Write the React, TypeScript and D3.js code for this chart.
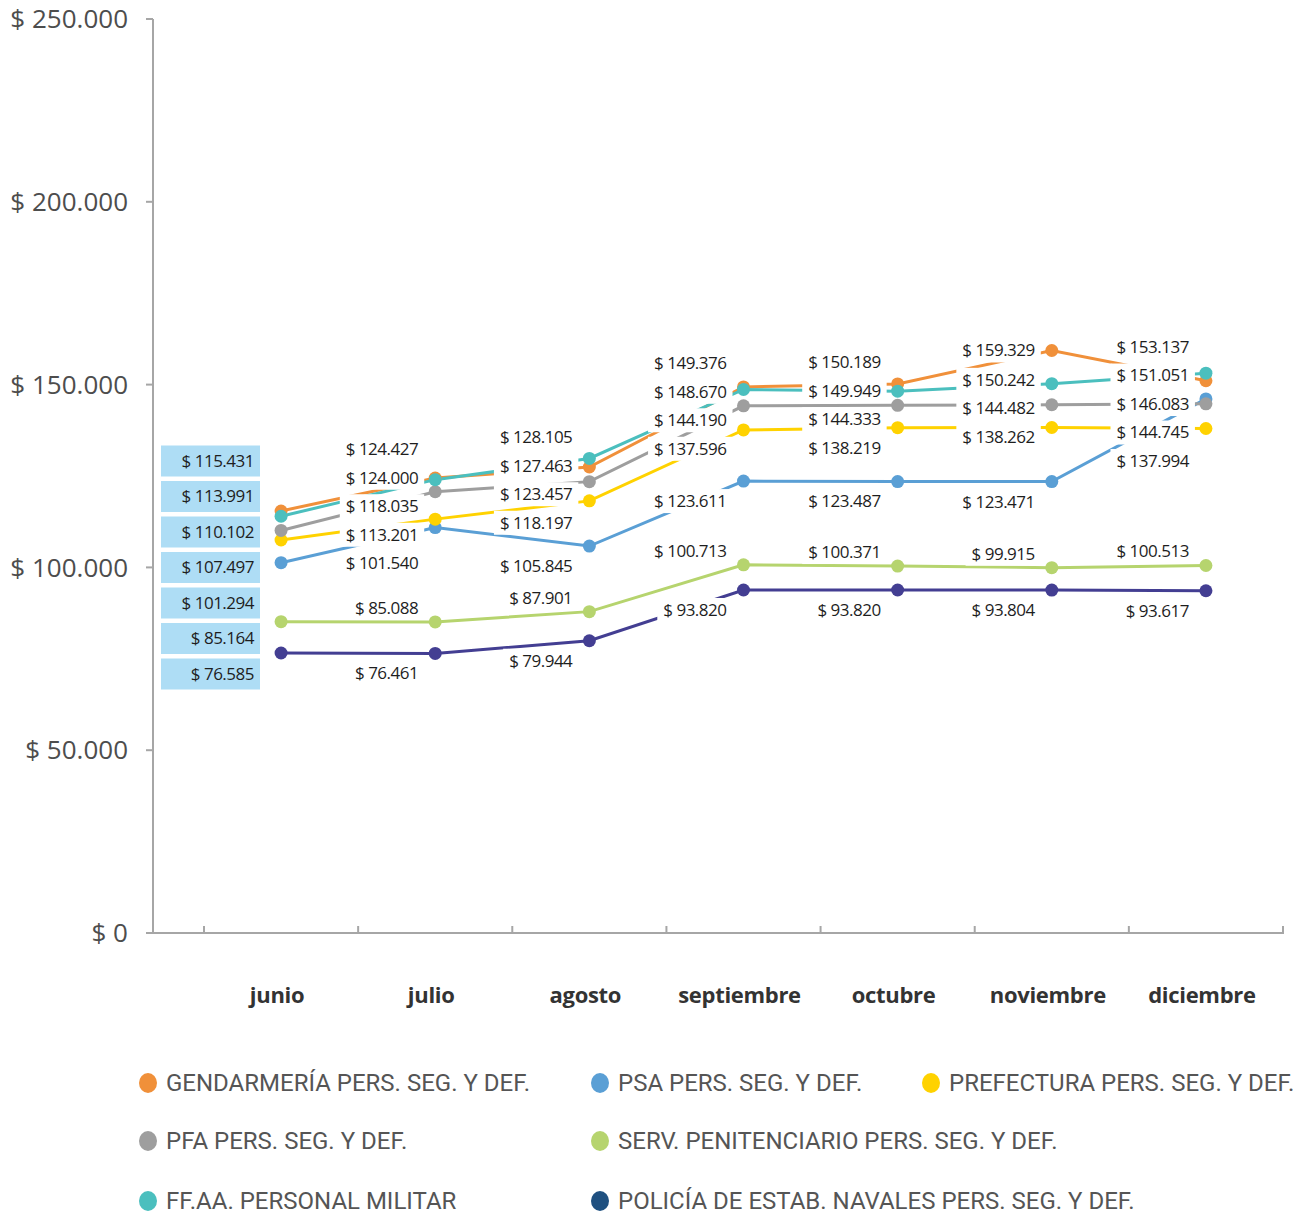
import React, { useRef, useEffect } from "react";
import * as d3 from "d3";

// categories and ticks
const months = ["junio", "julio", "agosto", "septiembre", "octubre", "noviembre", "diciembre"];
const yTicks = [0, 50000, 100000, 150000, 200000, 250000];

// series names (legend order)
const names = [
  "GENDARMERÍA PERS. SEG. Y DEF.",
  "PSA PERS. SEG. Y DEF.",
  "PREFECTURA PERS. SEG. Y DEF.",
  "PFA PERS. SEG. Y DEF.",
  "SERV. PENITENCIARIO PERS. SEG. Y DEF.",
  "FF.AA. PERSONAL MILITAR",
  "POLICÍA DE ESTAB. NAVALES PERS. SEG. Y DEF.",
];

// plotted values
const gendarmeria = [115431, 124427, 127463, 149376, 150189, 159329, 151051];
const psa = [101294, 110900, 105845, 123611, 123487, 123471, 146083];
const prefectura = [107497, 113201, 118197, 137596, 138219, 138262, 137994];
const pfa = [110102, 120700, 123457, 144190, 144333, 144482, 144745];
const servPenitenciario = [85164, 85088, 87901, 100713, 100371, 99915, 100513];
const ffaa = [113991, 124000, 129800, 148670, 148200, 150242, 153137];
const policiaNavales = [76585, 76461, 79944, 93820, 93820, 93804, 93617];

// values printed in the data labels (some differ from the plotted point)
const psaLabels = [101294, 101540, 105845, 123611, 123487, 123471, 146083];
const pfaLabels = [110102, 118035, 123457, 144190, 144333, 144482, 144745];
const ffaaLabels = [113991, 124000, 128105, 148670, 149949, 150242, 153137];

const lineColors = ["#F0903A", "#5A9FD5", "#FFD200", "#9E9E9E", "#B6D46E", "#4BBFBE", "#433E92"];
const legendColors = ["#F0903A", "#5A9FD5", "#FFD200", "#9E9E9E", "#B6D46E", "#4BBFBE", "#1F5080"];
// label offset (px) from the point before dodging
const labelShift = [0, 20, 0, 0, -14, 0, 20];

const money = (v: number) => "$ " + d3.format(",")(v).replace(/,/g, ".");

export default function App() {
  const svgRef = useRef<SVGSVGElement>(null);

  useEffect(() => {
    if (!svgRef.current) return;
    const svg = d3.select(svgRef.current);
    svg.selectAll("*").remove();

    const values = [gendarmeria, psa, prefectura, pfa, servPenitenciario, ffaa, policiaNavales];
    const labels = [gendarmeria, psaLabels, prefectura, pfaLabels, servPenitenciario, ffaaLabels, policiaNavales];

    const x0 = 153;
    const xBand = d3.scaleBand<string>().domain(months).range([204, 1283]).padding(0);
    const x = (m: string) => (xBand(m) as number) + xBand.bandwidth() / 2;
    const y = d3.scaleLinear().domain([0, 250000]).range([933, 19]);
    const axisColor = "#A6A6A6";

    // y axis
    svg.append("line").attr("x1", x0).attr("x2", x0).attr("y1", y(250000)).attr("y2", y(0))
      .attr("stroke", axisColor).attr("stroke-width", 2);
    const yt = svg.append("g");
    yTicks.forEach((t) => {
      yt.append("line").attr("x1", x0 - 7).attr("x2", x0).attr("y1", y(t)).attr("y2", y(t))
        .attr("stroke", axisColor).attr("stroke-width", 2);
      yt.append("text").attr("x", 128).attr("y", y(t)).attr("dy", "0.35em")
        .attr("text-anchor", "end").attr("font-family", "Open Sans").attr("font-size", 26)
        .attr("fill", "#4D4D4D").text(money(t));
    });

    // x axis
    svg.append("line").attr("x1", x0).attr("x2", 1284).attr("y1", y(0)).attr("y2", y(0))
      .attr("stroke", axisColor).attr("stroke-width", 2);
    const bounds = months.map((m) => xBand(m) as number).concat([xBand.range()[1]]);
    bounds.forEach((b) => {
      svg.append("line").attr("x1", b).attr("x2", b).attr("y1", y(0) - 7).attr("y2", y(0))
        .attr("stroke", axisColor).attr("stroke-width", 2);
    });
    months.forEach((m) => {
      svg.append("text").attr("x", x(m) - 4).attr("y", 1003).attr("text-anchor", "middle")
        .attr("font-family", "Open Sans").attr("font-weight", 700).attr("font-size", 22)
        .attr("letter-spacing", -0.3).attr("fill", "#333").text(m);
    });

    // lines
    const line = d3.line<number>().x((_, i) => x(months[i])).y((d) => y(d));
    values.forEach((vals, s) => {
      svg.append("path").datum(vals).attr("fill", "none").attr("stroke", lineColors[s])
        .attr("stroke-width", 3).attr("d", line);
    });

    // data labels (julio..diciembre), stacked to avoid overlap
    const gap = 28.5;
    const labelLayer = svg.append("g");
    months.forEach((m, i) => {
      if (i === 0) return;
      const items = values.map((vals, s) => ({ s, v: vals[i], want: y(vals[i]) + labelShift[s] }))
        .sort((a, b) => b.v - a.v);
      let clusters = items.map((it) => ({ items: [it], top: it.want }));
      let merged = true;
      while (merged) {
        merged = false;
        for (let k = 0; k < clusters.length - 1; k++) {
          const a = clusters[k];
          const b = clusters[k + 1];
          const aBottom = a.top + (a.items.length - 1) * gap;
          if (b.top - aBottom < gap) {
            const all = a.items.concat(b.items);
            const mean = d3.mean(all, (d) => d.want) as number;
            clusters.splice(k, 2, { items: all, top: mean - ((all.length - 1) * gap) / 2 + 3 });
            merged = true;
            break;
          }
        }
      }
      clusters.forEach((c) => {
        c.items.forEach((it, j) => {
          const ly = c.top + j * gap;
          const g = labelLayer.append("g");
          const rect = g.append("rect").attr("fill", "white");
          const t = g.append("text").attr("x", x(m) - 17).attr("y", ly).attr("dy", "0.35em")
            .attr("text-anchor", "end").attr("font-family", "Open Sans").attr("font-size", 17)
            .attr("letter-spacing", -0.5).attr("fill", "#1E1E1E").text(money(labels[it.s][i]));
          const bb = (t.node() as SVGTextElement).getBBox();
          rect.attr("x", bb.x - 6).attr("y", ly - 12).attr("width", bb.width + 12).attr("height", 24);
        });
      });
    });

    // points
    values.forEach((vals, s) => {
      svg.append("g").selectAll("circle").data(vals).join("circle")
        .attr("cx", (_, i) => x(months[i])).attr("cy", (d) => y(d)).attr("r", 6.5)
        .attr("fill", lineColors[s]);
    });

    // junio labels in boxes
    const junio = values.map((vals, s) => ({ s, v: vals[0] })).sort((a, b) => b.v - a.v);
    junio.forEach((d, k) => {
      const cy = 461 + k * 35.5;
      svg.append("rect").attr("x", 161).attr("y", cy - 15.5).attr("width", 99).attr("height", 31)
        .attr("fill", "#AEDDF5");
      svg.append("text").attr("x", 254).attr("y", cy).attr("dy", "0.35em").attr("text-anchor", "end")
        .attr("font-family", "Open Sans").attr("font-size", 17).attr("letter-spacing", -0.5)
        .attr("fill", "#1E1E1E").text(money(labels[d.s][0]));
    });

    // legend
    const colX = [148, 600, 931];
    const rowY = [1083, 1141, 1201];
    const slots = [[0, 0], [1, 0], [2, 0], [0, 1], [1, 1], [0, 2], [1, 2]];
    names.forEach((n, s) => {
      const [c, r] = slots[s];
      const g = svg.append("g").attr("transform", `translate(${colX[c]},${rowY[r]})`);
      g.append("ellipse").attr("rx", 9).attr("ry", 10).attr("fill", legendColors[s]);
      g.append("text").attr("x", 18).attr("dy", "0.35em").attr("font-family", "Roboto")
        .attr("font-size", 24).attr("fill", "#555").text(n);
    });
  }, []);

  return (
    <svg ref={svgRef} width={1305} height={1214}
      style={{ position: "absolute", left: 0, top: 0, display: "block", background: "white" }} />
  );
}
